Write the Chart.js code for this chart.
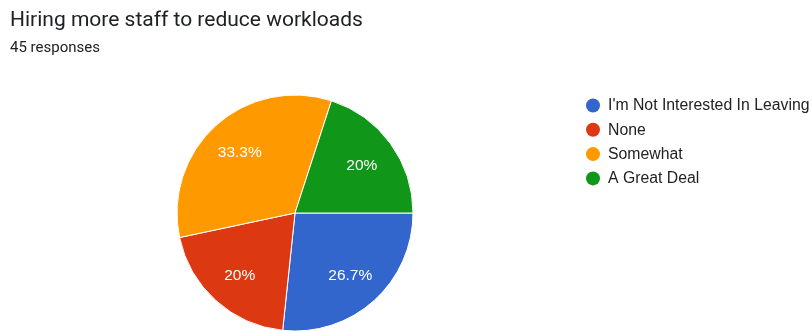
<!DOCTYPE html>
<html>
<head>
<meta charset="utf-8">
<script src="https://cdn.jsdelivr.net/npm/chart.js@4/dist/chart.umd.min.js"></script>
<style>
  html, body { margin: 0; padding: 0; background: #ffffff; }
  #wrap { position: relative; width: 812px; height: 331px; }
</style>
</head>
<body>
<div id="wrap"><canvas id="chart"></canvas></div>
<script>
// Survey question and answers
const titleText = 'Hiring more staff to reduce workloads';
const categories = ["I'm Not Interested In Leaving", 'None', 'Somewhat', 'A Great Deal'];
const responses = [12, 9, 15, 9];
const sliceColors = ['#3366cc', '#dc3912', '#ff9900', '#109618'];

const totalResponses = responses.reduce((a, b) => a + b, 0);
const subtitleText = totalResponses + ' responses';

function pctLabel(v) {
  const p = Math.round(v / totalResponses * 1000) / 10;
  return p + '%';
}

// Title, subtitle, percentage labels and the legend on the right
const decorations = {
  id: 'decorations',
  afterDatasetsDraw(chart) {
    const ctx = chart.ctx;
    ctx.save();
    ctx.textBaseline = 'alphabetic';
    ctx.textAlign = 'left';
    ctx.fillStyle = '#202124';
    ctx.font = '21px Roboto';
    ctx.fillText(titleText, 10, 25.5);
    ctx.font = '15px Roboto';
    ctx.fillText(subtitleText, 10, 52);

    // percentage inside each slice
    const meta = chart.getDatasetMeta(0);
    ctx.fillStyle = '#ffffff';
    ctx.font = '15.5px "Liberation Sans", Arial, sans-serif';
    ctx.textAlign = 'center';
    ctx.textBaseline = 'middle';
    meta.data.forEach((arc, i) => {
      const p = arc.getProps(['x', 'y', 'startAngle', 'endAngle', 'outerRadius'], true);
      const mid = (p.startAngle + p.endAngle) / 2;
      const r = p.outerRadius * 0.7;
      ctx.fillText(pctLabel(responses[i]), p.x + Math.cos(mid) * r, p.y + Math.sin(mid) * r + 1.5);
    });

    // legend
    ctx.textAlign = 'left';
    ctx.font = '15.8px "Liberation Sans", Arial, sans-serif';
    categories.forEach((name, i) => {
      const cy = 105.5 + i * 24.3;
      ctx.beginPath();
      ctx.arc(593, cy, 7, 0, Math.PI * 2);
      ctx.fillStyle = sliceColors[i];
      ctx.fill();
      ctx.fillStyle = '#222222';
      ctx.fillText(name, 608, cy + 0.5);
    });
    ctx.restore();
  }
};

new Chart(document.getElementById('chart'), {
  type: 'pie',
  data: {
    labels: categories,
    datasets: [{
      data: responses,
      backgroundColor: sliceColors,
      borderColor: '#ffffff',
      borderWidth: 1
    }]
  },
  options: {
    responsive: true,
    maintainAspectRatio: false,
    animation: false,
    rotation: 90,
    radius: 118,
    layout: { padding: { left: 177, right: 399, top: 95, bottom: 0 } },
    plugins: {
      legend: { display: false },
      title: { display: false },
      tooltip: { enabled: false }
    }
  },
  plugins: [decorations]
});
</script>
</body>
</html>
